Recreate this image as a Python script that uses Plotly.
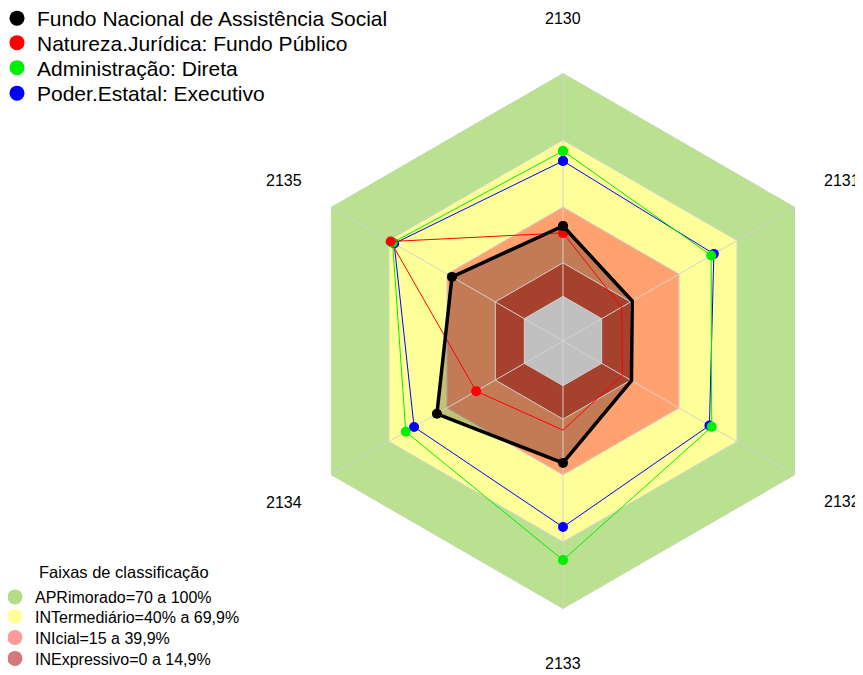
import math
import plotly.graph_objects as go

# categorias (eixos do radar)
anos = ['2130', '2131', '2132', '2133', '2134', '2135']

# séries
fundo_nacional = [31.5, 15.8, 15.4, 34.6, 45.2, 37.4]
natureza_juridica = [28.4, 10.3, 10.7, 19.9, 24.9, 69.1]
administracao = [65.1, 56.6, 56.9, 78.1, 61.3, 68.1]
poder_estatal = [60.6, 58.0, 55.7, 63.3, 57.0, 67.3]

series_nomes = ['Fundo Nacional de Assistência Social',
                'Natureza.Jurídica: Fundo Público',
                'Administração: Direta',
                'Poder.Estatal: Executivo']
series_cores = ['black', 'red', '#00ee00', 'blue']

# faixas de classificação
faixas_titulo = 'Faixas de classificação'
faixas_nomes = ['APRimorado=70 a 100%', 'INTermediário=40% a 69,9%',
                'INIcial=15 a 39,9%', 'INExpressivo=0 a 14,9%']
faixas_limites = [100, 70, 40, 15]
faixas_cores = ['#b9e190', '#ffff99', '#ffa270', '#a5412d']
faixas_cores_legenda = ['#b4dc84', '#ffff99', '#ff9a9a', '#d67878']
centro = -20

W, H = 863, 675
cx, cy, raio = 555, 333, 268   # posição do radar em pixels
dist_rotulos = 322             # distância dos rótulos ao centro


def fechar(lista):
    return list(lista) + [lista[0]]


def faixa(limite, cor):
    return go.Scatterpolar(r=fechar([limite] * len(anos)), theta=fechar(anos),
                           mode='lines', fill='toself', fillcolor=cor,
                           line=dict(color='#d2d2d2', width=1),
                           showlegend=False, hoverinfo='skip')


fig = go.Figure()

# faixas externas
for lim, cor in zip(faixas_limites[:3], faixas_cores[:3]):
    fig.add_trace(faixa(lim, cor))

# preenchimento da série principal
fig.add_trace(go.Scatterpolar(r=fechar(fundo_nacional), theta=fechar(anos),
                              mode='none', fill='toself',
                              fillcolor='rgba(0,0,0,0.24)',
                              showlegend=False, hoverinfo='skip'))

# faixa interna e centro
fig.add_trace(faixa(faixas_limites[3], faixas_cores[3]))
fig.add_trace(faixa(0, '#c0c0c0'))

# raios
raios_r, raios_t = [], []
for a in anos:
    raios_r += [centro, 100, None]
    raios_t += [a, a, a]
fig.add_trace(go.Scatterpolar(r=raios_r, theta=raios_t, mode='lines',
                              line=dict(color='#d2d2d2', width=1),
                              connectgaps=False, showlegend=False,
                              hoverinfo='skip'))

# séries
dados = [fundo_nacional, natureza_juridica, administracao, poder_estatal]
larguras = [3.5, 1, 1, 1]
for nome, valores, cor, lw in reversed(list(zip(series_nomes, dados, series_cores, larguras))):
    fig.add_trace(go.Scatterpolar(r=fechar(valores), theta=fechar(anos),
                                  mode='lines+markers', name=nome,
                                  line=dict(color=cor, width=lw),
                                  marker=dict(color=cor, size=10),
                                  showlegend=False))

# rótulos dos eixos (fora do radar)
anotacoes = []
for i, ano in enumerate(anos):
    ang = math.radians(360 / len(anos) * i)
    anotacoes.append(dict(text=ano, showarrow=False,
                          x=(cx + dist_rotulos * math.sin(ang)) / W,
                          y=1 - (cy - dist_rotulos * math.cos(ang)) / H,
                          xref='paper', yref='paper',
                          xanchor='center', yanchor='middle',
                          font=dict(size=16)))
anotacoes.append(dict(text=faixas_titulo, x=116 / W, y=1 - 564 / H,
                      xref='paper', yref='paper', showarrow=False,
                      xanchor='center', yanchor='middle',
                      font=dict(size=16.5)))

# legendas: uma por item para controlar o espaçamento
legendas = {}
topo_series = [-10, 14.5, 39.5, 65]
for i, (nome, cor) in enumerate(zip(series_nomes, series_cores)):
    lg = 'legend' if i == 0 else f'legend{i + 1}'
    fig.add_trace(go.Scatterpolar(r=[None], theta=[anos[0]], mode='markers',
                                  name=nome, marker=dict(color=cor, size=15),
                                  legend=lg))
    legendas[lg] = dict(x=-11 / W, y=1 - topo_series[i] / H,
                        xanchor='left', yanchor='top',
                        font=dict(size=21), itemsizing='trace',
                        bgcolor='rgba(0,0,0,0)')

topo_faixas = [572, 591.5, 612.5, 633.5]
for i, (nome, cor) in enumerate(zip(faixas_nomes, faixas_cores_legenda)):
    lg = f'legend{i + 5}'
    fig.add_trace(go.Scatterpolar(r=[None], theta=[anos[0]], mode='markers',
                                  name=nome, marker=dict(color=cor, size=15),
                                  legend=lg))
    legendas[lg] = dict(x=-13 / W, y=1 - topo_faixas[i] / H,
                        xanchor='left', yanchor='top',
                        font=dict(size=16), itemsizing='trace',
                        bgcolor='rgba(0,0,0,0)')

fig.update_layout(
    width=W, height=H,
    margin=dict(l=0, r=0, t=0, b=0, autoexpand=False),
    paper_bgcolor='white',
    font=dict(family='Liberation Sans, Arial', color='black'),
    polar=dict(
        domain=dict(x=[(cx - raio) / W, (cx + raio) / W],
                    y=[1 - (cy + raio) / H, 1 - (cy - raio) / H]),
        gridshape='linear',
        bgcolor='white',
        radialaxis=dict(visible=False, range=[centro, 100]),
        angularaxis=dict(type='category', categoryarray=anos,
                         direction='clockwise', rotation=90,
                         showgrid=False, showline=False,
                         showticklabels=False, ticks=''),
    ),
    annotations=anotacoes,
    **legendas,
)

fig.write_html('out.html')
